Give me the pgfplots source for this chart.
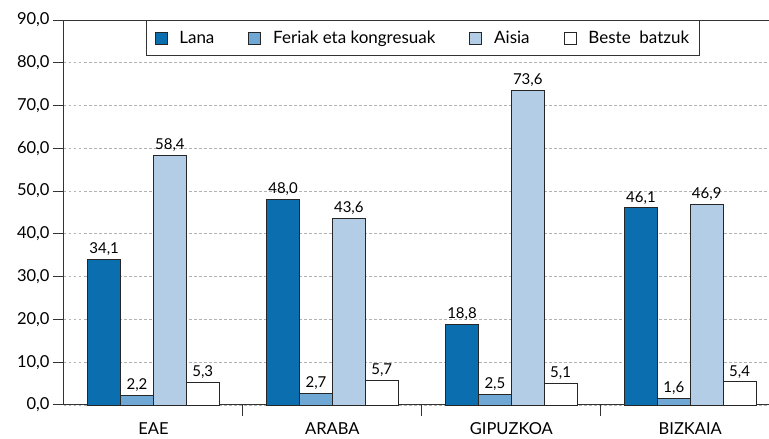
\documentclass[border=0pt]{standalone}
\usepackage{pgfplots}
\pgfplotsset{compat=1.18}
\usepackage{fontspec}
\setmainfont{Lato}
\definecolor{cA}{HTML}{0B6FAF}
\definecolor{cB}{HTML}{6FA8D4}
\definecolor{cC}{HTML}{B4CDE6}
\definecolor{axc}{HTML}{333333}
\begin{document}
\begin{tikzpicture}
\path[use as bounding box] (-64pt,-34pt) rectangle (705pt,405pt);
\begin{axis}[
  scale only axis, width=705pt, height=385pt,
  xmin=-0.5, xmax=3.44, ymin=0, ymax=90,
  clip=false,
  ybar=0pt, bar width=0.1837,
  legend image code/.code={\draw[#1, line width=0.8pt, draw=black!85] (0pt,-6pt) rectangle (12pt,6pt);},
  axis y line=left, axis x line=box,
  axis line style={-, draw=axc, line width=1pt},
  xtick pos=left, ytick pos=left,
  ytick={0,10,...,90},
  tick align=outside,
  major tick length=11pt,
  every tick/.style={draw=axc, line width=1pt},
  xtick={0,1,2,3},
  xticklabels={EAE,ARABA,GIPUZKOA,BIZKAIA},
  major x tick style={draw=none},
  xticklabel style={font=\fontsize{16.5}{18}\selectfont, yshift=-3pt},
  ymajorgrids,
  major grid style={draw=gray!60, dash pattern=on 2.5pt off 2.5pt, line width=0.9pt},
  /pgf/number format/assume math mode=true,
  yticklabel style={font=\fontsize{16.5}{18}\selectfont, /pgf/number format/.cd, fixed, fixed zerofill, precision=1, use comma},
  nodes near coords,
  every node near coord/.append style={font=\fontsize{15}{17}\selectfont, black, /pgf/number format/.cd, fixed, fixed zerofill, precision=1, use comma},
  legend columns=4,
  legend style={at={(0.509,1)}, anchor=north, draw=axc, line width=1pt,
    font=\fontsize{17}{19}\selectfont, inner xsep=8pt, inner ysep=8.5pt,
    /tikz/every odd column/.append style={column sep=10pt},
    /tikz/every even column/.append style={column sep=32pt}},
]
\addplot[fill=cA, draw=black!85, line width=0.8pt] coordinates {(0,34.1) (1,48.0) (2,18.8) (3,46.1)};
\addplot[fill=cB, draw=black!85, line width=0.8pt] coordinates {(0,2.2) (1,2.7) (2,2.5) (3,1.6)};
\addplot[fill=cC, draw=black!85, line width=0.8pt] coordinates {(0,58.4) (1,43.6) (2,73.6) (3,46.9)};
\addplot[fill=white, draw=black!85, line width=0.8pt] coordinates {(0,5.3) (1,5.7) (2,5.1) (3,5.4)};
\legend{Lana, Feriak eta kongresuak, Aisia, Beste\ \ batzuk}
\draw[axc, line width=1pt] (axis cs:0.5,0) -- ++(0pt,-11pt);
\draw[axc, line width=1pt] (axis cs:1.5,0) -- ++(0pt,-11pt);
\draw[axc, line width=1pt] (axis cs:2.5,0) -- ++(0pt,-11pt);
\end{axis}
\end{tikzpicture}
\end{document}
